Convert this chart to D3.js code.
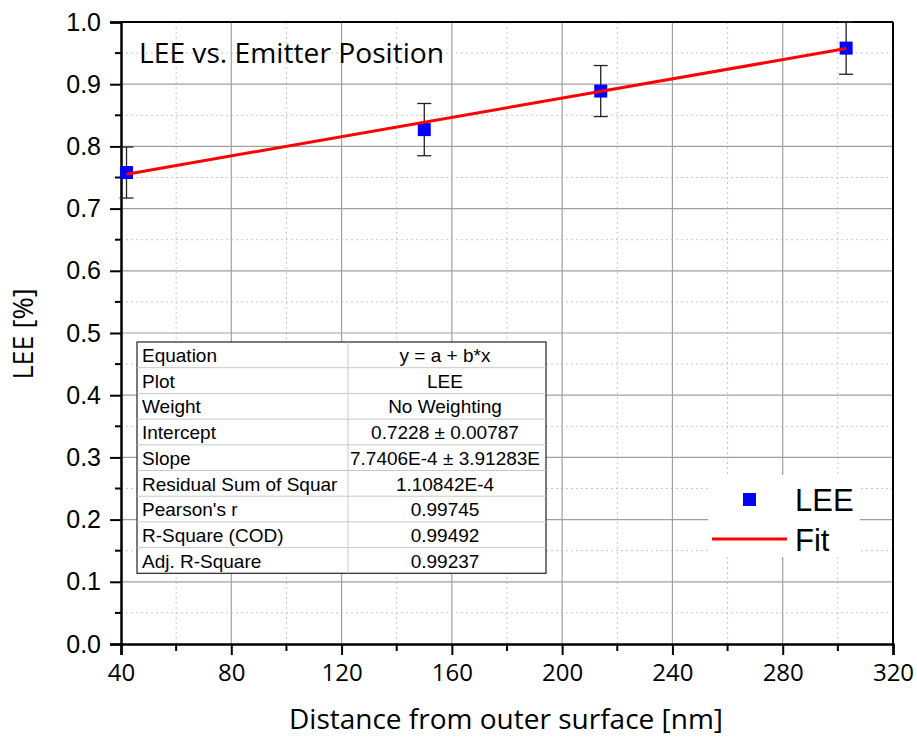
<html>
<head>
<script src="https://cdnjs.cloudflare.com/ajax/libs/d3/7.8.5/d3.min.js"></script>
<style>
  body { margin: 0; background: #fff; }
</style>
</head>
<body>
<script>
// ---- data ----
var distance = [42, 150, 214, 303];           // nm
var lee      = [0.758, 0.827, 0.889, 0.958];  // LEE
var leeErr   = [0.041, 0.042, 0.041, 0.042];  // error bar half-heights

var fitIntercept = 0.7228;
var fitSlope     = 7.7406e-4;

var xTicks = [40, 80, 120, 160, 200, 240, 280, 320];
var yTicks = [0.0, 0.1, 0.2, 0.3, 0.4, 0.5, 0.6, 0.7, 0.8, 0.9, 1.0];

var tableLabels = ["Equation", "Plot", "Weight", "Intercept", "Slope",
                   "Residual Sum of Squar", "Pearson's r", "R-Square (COD)", "Adj. R-Square"];
var tableValues = ["y = a + b*x", "LEE", "No Weighting", "0.7228 \u00b1 0.00787",
                   "7.7406E-4 \u00b1 3.91283E", "1.10842E-4", "0.99745", "0.99492", "0.99237"];

// ---- layout ----
var W = 917, H = 740;
var plotL = 121, plotR = 893, plotT = 22, plotB = 644;
var calibriLike = "'Open Sans', 'Noto Sans', sans-serif";

var svg = d3.select("body").append("svg")
    .attr("width", W)
    .attr("height", H)
    .style("font-family", "'Liberation Sans', Arial, sans-serif");

var x = d3.scaleLinear().domain([40, 320]).range([plotL, plotR]);
var y = d3.scaleLinear().domain([0, 1]).range([plotB, plotT]);

// minor grid (dotted)
var xMinor = d3.range(60, 320, 40);
var yMinor = d3.range(0.05, 1.0, 0.1);
svg.append("g").selectAll("line").data(xMinor).enter().append("line")
    .attr("x1", d => x(d)).attr("x2", d => x(d))
    .attr("y1", plotT).attr("y2", plotB)
    .attr("stroke", "#c8c8c8").attr("stroke-width", 1).attr("stroke-dasharray", "2,3");
svg.append("g").selectAll("line").data(yMinor).enter().append("line")
    .attr("x1", plotL).attr("x2", plotR)
    .attr("y1", d => y(d)).attr("y2", d => y(d))
    .attr("stroke", "#c8c8c8").attr("stroke-width", 1).attr("stroke-dasharray", "2,3");

// major grid
svg.append("g").selectAll("line").data(xTicks.slice(1, -1)).enter().append("line")
    .attr("x1", d => x(d)).attr("x2", d => x(d))
    .attr("y1", plotT).attr("y2", plotB)
    .attr("stroke", "#a0a0a0").attr("stroke-width", 1.2);
svg.append("g").selectAll("line").data(yTicks.slice(1, -1)).enter().append("line")
    .attr("x1", plotL).attr("x2", plotR)
    .attr("y1", d => y(d)).attr("y2", d => y(d))
    .attr("stroke", "#a0a0a0").attr("stroke-width", 1.2);

// axes
var xAxis = d3.axisBottom(x).tickValues(xTicks).tickSize(11).tickPadding(9)
    .tickFormat(d3.format("d"));
var gx = svg.append("g").attr("transform", "translate(0," + plotB + ")").call(xAxis);
gx.select(".domain").attr("stroke", "#000").attr("stroke-width", 2.5);
gx.selectAll(".tick line").attr("stroke", "#000").attr("stroke-width", 2);
gx.selectAll("text").attr("font-size", 24).attr("fill", "#000")
    .style("font-family", calibriLike);

var yAxis = d3.axisLeft(y).tickValues(yTicks).tickSize(11).tickPadding(9)
    .tickFormat(d3.format(".1f"));
var gy = svg.append("g").attr("transform", "translate(" + plotL + ",0)").call(yAxis);
gy.select(".domain").attr("stroke", "#000").attr("stroke-width", 2.5);
gy.selectAll(".tick line").attr("stroke", "#000").attr("stroke-width", 2);
gy.selectAll("text").attr("font-size", 25).attr("fill", "#000");

// minor ticks
svg.append("g").selectAll("line").data(xMinor).enter().append("line")
    .attr("x1", d => x(d)).attr("x2", d => x(d))
    .attr("y1", plotB).attr("y2", plotB + 7)
    .attr("stroke", "#000").attr("stroke-width", 2);
svg.append("g").selectAll("line").data(yMinor).enter().append("line")
    .attr("x1", plotL - 6).attr("x2", plotL)
    .attr("y1", d => y(d)).attr("y2", d => y(d))
    .attr("stroke", "#000").attr("stroke-width", 2);

// top and right frame
svg.append("line").attr("x1", plotL).attr("x2", plotR).attr("y1", plotT).attr("y2", plotT)
    .attr("stroke", "#000").attr("stroke-width", 2);
svg.append("line").attr("x1", plotR).attr("x2", plotR).attr("y1", plotT).attr("y2", plotB)
    .attr("stroke", "#000").attr("stroke-width", 2);

// axis titles
svg.append("text")
    .attr("x", 506).attr("y", 729)
    .attr("text-anchor", "middle")
    .style("font-family", calibriLike)
    .attr("font-size", 28)
    .text("Distance from outer surface [nm]");
svg.append("text")
    .attr("transform", "translate(33,334) rotate(-90)")
    .attr("text-anchor", "middle")
    .style("font-family", calibriLike)
    .attr("font-size", 27)
    .text("LEE [%]");

// chart title inside plot
svg.append("text")
    .attr("x", 139).attr("y", 63)
    .style("font-family", calibriLike)
    .attr("font-size", 28.2)
    .text("LEE vs. Emitter Position");

// fit line
var fitLine = d3.line().x(d => x(d)).y(d => y(fitIntercept + fitSlope * d));
var fitEnds = [d3.min(distance), d3.max(distance)];

// error bars
var pts = distance.map((d, i) => ({ x: d, y: lee[i], e: leeErr[i] }));
var eb = svg.append("g").attr("stroke", "#222").attr("stroke-width", 1.3);
eb.selectAll(".v").data(pts).enter().append("line")
    .attr("x1", d => x(d.x)).attr("x2", d => x(d.x))
    .attr("y1", d => y(d.y - d.e)).attr("y2", d => y(d.y + d.e));
eb.selectAll(".t").data(pts).enter().append("line")
    .attr("x1", d => x(d.x) - 7).attr("x2", d => x(d.x) + 7)
    .attr("y1", d => y(d.y + d.e)).attr("y2", d => y(d.y + d.e));
eb.selectAll(".b").data(pts).enter().append("line")
    .attr("x1", d => x(d.x) - 7).attr("x2", d => x(d.x) + 7)
    .attr("y1", d => y(d.y - d.e)).attr("y2", d => y(d.y - d.e));

// markers
svg.append("g").selectAll("rect").data(pts).enter().append("rect")
    .attr("x", d => x(d.x) - 6.5).attr("y", d => y(d.y) - 6.5)
    .attr("width", 13).attr("height", 13)
    .attr("fill", "#0000ff");

// fit drawn over markers like the reference
svg.append("path")
    .attr("d", fitLine(fitEnds))
    .attr("fill", "none").attr("stroke", "#ff0000").attr("stroke-width", 3);

// stats table
var tx = 137, ty = 342, colW = [211, 198], rowH = 25.7;
var tbl = svg.append("g");
tbl.append("rect").attr("x", tx).attr("y", ty)
    .attr("width", colW[0] + colW[1]).attr("height", rowH * tableLabels.length)
    .attr("fill", "#fff").attr("stroke", "#222").attr("stroke-width", 1.2);
tbl.selectAll(".hl").data(d3.range(1, tableLabels.length)).enter().append("line")
    .attr("x1", tx).attr("x2", tx + colW[0] + colW[1])
    .attr("y1", d => ty + d * rowH).attr("y2", d => ty + d * rowH)
    .attr("stroke", "#c8c8c8").attr("stroke-width", 1);
tbl.append("line").attr("x1", tx + colW[0]).attr("x2", tx + colW[0])
    .attr("y1", ty).attr("y2", ty + rowH * tableLabels.length)
    .attr("stroke", "#c8c8c8").attr("stroke-width", 1);
tbl.selectAll(".lab").data(tableLabels).enter().append("text")
    .attr("x", tx + 5).attr("y", (d, i) => ty + i * rowH + 20)
    .attr("font-size", 19).text(d => d);
tbl.selectAll(".val").data(tableValues).enter().append("text")
    .attr("x", tx + colW[0] + colW[1] / 2 - 2).attr("y", (d, i) => ty + i * rowH + 20)
    .attr("text-anchor", "middle")
    .attr("font-size", 19).text(d => d);

// legend
var lg = svg.append("g");
lg.append("rect").attr("x", 708).attr("y", 475).attr("width", 152).attr("height", 82).attr("fill", "#fff");
lg.append("rect").attr("x", 743).attr("y", 493).attr("width", 13).attr("height", 13).attr("fill", "#0000ff");
lg.append("line").attr("x1", 712).attr("x2", 787).attr("y1", 539).attr("y2", 539)
    .attr("stroke", "#ff0000").attr("stroke-width", 3);
lg.append("text").attr("x", 795).attr("y", 511).attr("font-size", 31).text("LEE");
lg.append("text").attr("x", 795).attr("y", 551).attr("font-size", 31).text("Fit");
</script>
</body>
</html>
